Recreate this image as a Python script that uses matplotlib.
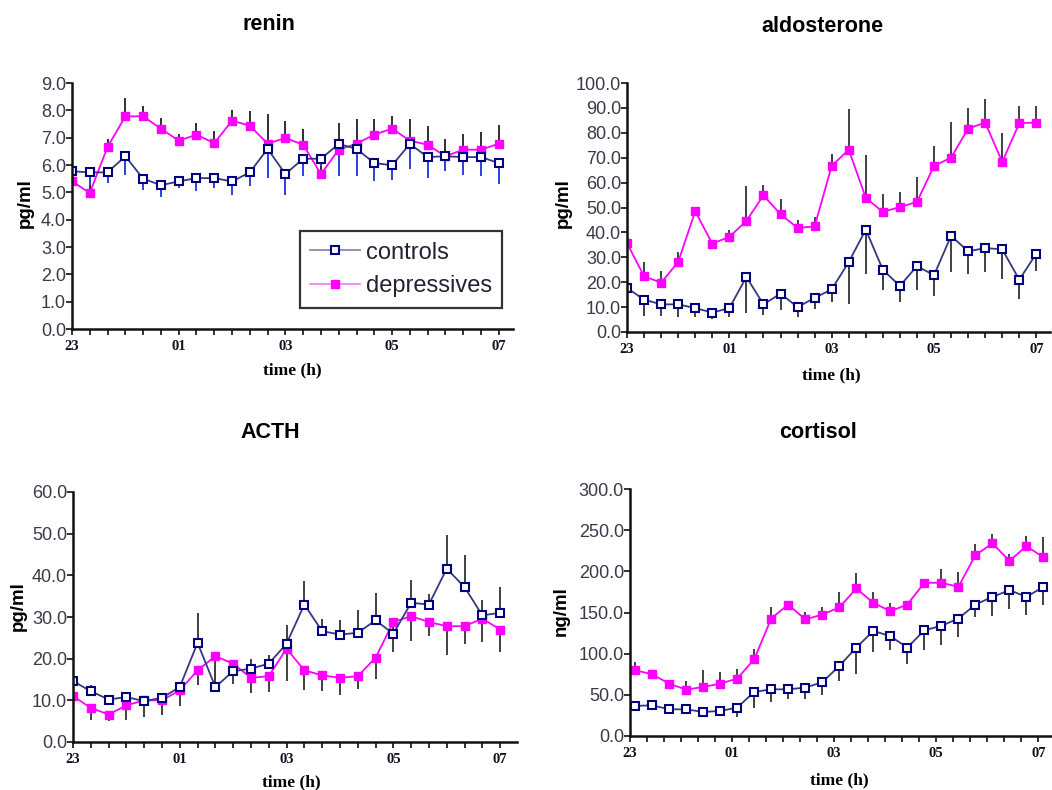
import numpy as np
import matplotlib
matplotlib.use("Agg")
import matplotlib.pyplot as plt

# ---------------- data ----------------
tick_labels = ["23", "01", "03", "05", "07"]
tick_every = 6  # 20-min samples, label every 2 h

renin_controls = [5.77, 5.73, 5.73, 6.32, 5.50, 5.26, 5.40, 5.52, 5.52, 5.40, 5.73, 6.59, 5.67,
                  6.23, 6.23, 6.77, 6.59, 6.07, 5.99, 6.77, 6.29, 6.32, 6.29, 6.29, 6.07]
renin_depressives = [5.40, 4.98, 6.66, 7.78, 7.78, 7.33, 6.89, 7.11, 6.80, 7.62, 7.44, 6.78, 6.99,
                     6.74, 5.67, 6.56, 6.78, 7.11, 7.33, 6.89, 6.74, 6.32, 6.56, 6.56, 6.78]
renin_controls_err = [0.40, 0.75, 0.39, 0.67, 0.40, 0.43, 0.24, 0.48, 0.36, 0.49, 0.51, 1.07, 0.76,
                      0.64, 0.52, 1.16, 0.98, 0.67, 0.53, 0.90, 0.77, 0.53, 0.64, 0.70, 0.75]
renin_depressives_err = [0.30, 0.30, 0.30, 0.67, 0.37, 0.39, 0.26, 0.43, 0.43, 0.40, 0.52, 1.10, 0.63,
                         0.58, 0.30, 0.98, 0.90, 0.57, 0.47, 0.79, 0.67, 0.64, 0.59, 0.65, 0.70]

aldo_controls = [17.7, 13.0, 11.1, 11.1, 9.6, 7.8, 9.6, 22.1, 11.1, 15.4, 10.0, 13.7, 17.1,
                 28.1, 41.1, 25.0, 18.5, 26.5, 22.8, 38.6, 32.4, 33.7, 33.2, 21.0, 31.5]
aldo_depressives = [35.7, 22.4, 19.8, 28.1, 48.5, 35.5, 38.2, 44.6, 54.9, 47.3, 41.8, 42.4, 66.7,
                    73.2, 53.9, 48.2, 50.2, 52.2, 66.7, 70.0, 81.7, 84.1, 68.3, 83.9, 84.1]
aldo_controls_err = [7.7, 6.7, 4.8, 5.1, 3.6, 2.4, 3.6, 14.5, 4.4, 6.7, 4.0, 4.3, 5.1,
                     16.7, 17.7, 8.0, 6.5, 9.8, 8.5, 14.5, 9.0, 9.6, 12.0, 7.6, 7.0]
aldo_depressives_err = [15.8, 5.7, 4.6, 4.0, 1.7, 1.3, 2.9, 13.9, 4.0, 6.2, 3.3, 3.8, 4.9,
                        16.5, 17.3, 7.4, 6.0, 10.0, 7.9, 14.3, 8.4, 9.6, 11.6, 6.7, 6.5]

acth_controls = [14.6, 12.2, 10.2, 10.8, 9.8, 10.6, 13.2, 23.8, 13.2, 17.0, 17.6, 18.8, 23.6,
                 33.0, 26.6, 25.8, 26.2, 29.2, 26.0, 33.4, 33.0, 41.6, 37.2, 30.4, 31.0]
acth_depressives = [11.0, 8.2, 6.6, 8.8, 10.0, 10.0, 12.4, 17.2, 20.6, 18.8, 15.4, 15.8, 22.4,
                    17.2, 16.0, 15.4, 15.8, 20.2, 28.8, 30.2, 28.8, 27.8, 27.8, 29.6, 27.0]
acth_controls_err = [1.9, 1.4, 0.8, 1.0, 0.9, 0.9, 0.8, 7.2, 5.3, 2.6, 2.4, 2.0, 4.4,
                     5.6, 3.0, 3.4, 5.6, 6.6, 2.0, 5.6, 2.6, 8.2, 7.6, 3.6, 6.2]
acth_depressives_err = [4.2, 2.8, 1.6, 3.4, 4.0, 3.6, 3.8, 3.4, 7.1, 4.8, 3.6, 3.8, 7.8,
                        4.6, 3.8, 4.2, 3.0, 5.0, 7.2, 6.0, 3.4, 7.0, 4.2, 5.6, 5.4]

cort_controls = [36.5, 37.3, 32.4, 32.4, 29.2, 30.4, 34.5, 53.5, 56.7, 56.7, 58.8, 65.3, 85.1,
                 107.4, 127.7, 121.2, 107.4, 128.5, 133.8, 142.7, 159.7, 169.0, 177.1, 169.0, 181.2]
cort_depressives = [79.9, 75.0, 63.6, 56.3, 59.6, 63.6, 69.7, 93.2, 142.7, 159.7, 141.5, 147.5, 156.1,
                    179.2, 161.7, 151.6, 159.7, 186.1, 186.1, 181.2, 219.7, 233.9, 212.8, 230.6, 216.9]
cort_controls_err = [4.1, 2.8, 3.2, 3.2, 2.0, 3.2, 11.4, 19.0, 15.4, 11.3, 13.4, 15.8, 18.2,
                     31.6, 25.6, 17.0, 19.4, 24.3, 23.5, 22.3, 15.0, 23.1, 22.3, 21.5, 22.3]
cort_depressives_err = [10.0, 5.0, 4.4, 10.2, 20.3, 14.2, 12.2, 13.0, 13.4, 3.3, 9.3, 8.6, 19.0,
                        18.2, 13.4, 9.4, 3.3, 2.9, 16.6, 18.2, 13.3, 10.9, 8.2, 12.6, 24.3]

# ---------------- style ----------------
SANS = ["Liberation Sans", "DejaVu Sans"]
SERIF = ["Liberation Serif", "DejaVu Serif"]
plt.rcParams["font.family"] = SANS

CTRL_LINE = "#38387e"
CTRL_EDGE = "#000080"
DEP_COL = "#ff00ff"
TICK_COL = "#3a3a4a"

fig = plt.figure(figsize=(10.52, 7.90), dpi=100)


def panel(rect, title, title_xy, ctrl, dep, ctrl_err, dep_err, ylim, ystep, ylabel,
          ctrl_up, err_ctrl_col, err_dep_col, xlim, xlabel_xy, ylabel_xy, tick_shift=0.0):
    ax = fig.add_axes(rect)
    x = np.arange(len(ctrl))
    zeros = np.zeros(len(ctrl))
    ce = np.array(ctrl_err)
    de = np.array(dep_err)
    if ctrl_up:
        c_yerr = [zeros, ce]
        d_yerr = [de, zeros]
    else:
        c_yerr = [ce, zeros]
        d_yerr = [zeros, de]
    ax.errorbar(x, ctrl, yerr=c_yerr, fmt="none", ecolor=err_ctrl_col, elinewidth=1.4,
                capsize=0, zorder=2)
    ax.errorbar(x, dep, yerr=d_yerr, fmt="none", ecolor=err_dep_col, elinewidth=1.4,
                capsize=0, zorder=2)
    ax.plot(x, ctrl, color=CTRL_LINE, lw=1.3, marker="s", ms=6.2, mfc="white",
            mec=CTRL_EDGE, mew=1.5, zorder=4, label="controls")
    ax.plot(x, dep, color=DEP_COL, lw=1.3, marker="s", ms=6.2, mfc=DEP_COL,
            mec=DEP_COL, zorder=3, label="depressives")

    ax.set_xlim(*xlim)
    ax.set_ylim(*ylim)
    ax.set_xticks(x + tick_shift)
    ax.set_xticklabels([tick_labels[i // tick_every] if i % tick_every == 0 else ""
                        for i in x], family=SERIF, fontweight="bold", fontsize=10.5,
                       color="#111122")
    yt = np.arange(ylim[0], ylim[1] + ystep / 2, ystep)
    ax.set_yticks(yt)
    ax.set_yticklabels([f"{v:.1f}" for v in yt], fontsize=13, color=TICK_COL)
    ax.tick_params(axis="x", direction="out", length=4, width=1.3, pad=4, color="#222222")
    ax.tick_params(axis="y", direction="out", length=4, width=1.3, pad=0.3, color="#222222")
    for s in ["top", "right"]:
        ax.spines[s].set_visible(False)
    for s in ["left", "bottom"]:
        ax.spines[s].set_linewidth(1.8)
        ax.spines[s].set_color("#111111")
    ax.spines["left"].set_zorder(5)

    fig.text(title_xy[0] / 1052, 1 - title_xy[1] / 790, title, ha="center", va="center",
             fontsize=15.5, fontweight="bold", family=SANS)
    fig.text(xlabel_xy[0] / 1052, 1 - xlabel_xy[1] / 790, "time (h)", ha="center", va="center",
             fontsize=12.5, fontweight="bold", family=SERIF)
    fig.text(ylabel_xy[0] / 1052, 1 - ylabel_xy[1] / 790, ylabel, ha="center", va="center",
             rotation=90, fontsize=13.5, fontweight="bold", family=SANS)
    return ax


ax1 = panel([72 / 1052, 1 - 329 / 790, 441 / 1052, 246 / 790], "renin", (269, 25),
            renin_controls, renin_depressives, renin_controls_err, renin_depressives_err,
            (0, 9), 1.0, "pg/ml", False, "#2b3fe0", "#303030", (0, 24.8),
            (292, 370), (25, 203))
leg = ax1.legend(loc="lower right", bbox_to_anchor=(0.976, 0.085), fontsize=17,
                 frameon=True, fancybox=False, handlelength=2.1, borderpad=0.45,
                 labelspacing=0.5, handletextpad=0.25, borderaxespad=0)
leg.get_frame().set_edgecolor("black")
leg.get_frame().set_linewidth(1.6)
for t in leg.get_texts():
    t.set_color("#222233")
leg.get_lines()[0].set_color("#8a8ab8")
leg.get_lines()[1].set_color("#ff80ff")

panel([627 / 1052, 1 - 332 / 790, 423 / 1052, 249 / 790], "aldosterone", (822, 26),
      aldo_controls, aldo_depressives, aldo_controls_err, aldo_depressives_err,
      (0, 100), 10.0, "pg/ml", False, "#404040", "#404040", (0, 24.8),
      (831, 375), (563, 203))

panel([73 / 1052, 1 - 742 / 790, 444 / 1052, 250 / 790], "ACTH", (270, 432),
      acth_controls, acth_depressives, acth_controls_err, acth_depressives_err,
      (0, 60), 10.0, "pg/ml", True, "#404040", "#404040", (0, 24.95),
      (291, 782), (18, 606))

panel([630 / 1052, 1 - 736 / 790, 422 / 1052, 247 / 790], "cortisol", (818, 432),
      cort_controls, cort_depressives, cort_controls_err, cort_depressives_err,
      (0, 300), 50.0, "ng/ml", False, "#404040", "#404040", (-0.3, 24.5),
      (839, 780), (561, 611), tick_shift=-0.3)

fig.savefig("out.png", dpi=100)
